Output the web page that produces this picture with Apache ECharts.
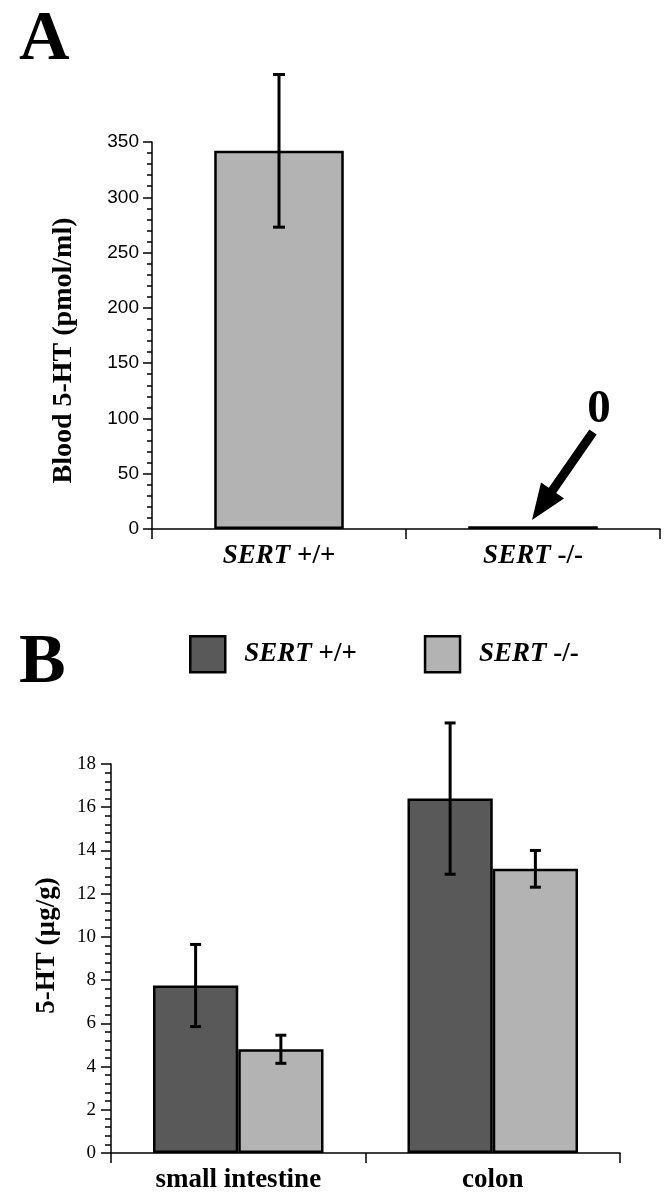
<!DOCTYPE html>
<html><head><meta charset="utf-8">
<script src="https://cdn.jsdelivr.net/npm/echarts@6/dist/echarts.min.js"></script>
<style>html,body{margin:0;padding:0;background:#fff}#c{width:664px;height:1200px}</style>
</head><body><div id="c"></div>
<script>
// ---- Panel A data ----
const catsA = ['SERT +/+', 'SERT -/-'];
const valuesA = [342, 2.5];
const errA = [69, 0];
const yTicksA = { min: 0, max: 350, interval: 50 };

// ---- Panel B data ----
const catsB = ['small intestine', 'colon'];
const seriesNamesB = ['SERT +/+', 'SERT -/-'];
const wildB = [7.75, 16.4];
const wildErrB = [1.9, 3.5];
const koB = [4.8, 13.15];
const koErrB = [0.65, 0.85];
const yTicksB = { min: 0, max: 18, interval: 2 };

const SERIF = 'Liberation Serif, Times New Roman, serif';
const SANS = 'Liberation Sans, Arial, sans-serif';
const BLACK = '#000';
const GRAY_L = '#b3b3b3';
const GRAY_D = '#595959';

const richSert = {
  i: { fontFamily: SERIF, fontWeight: 'bold', fontStyle: 'italic', fontSize: 27, color: BLACK },
  b: { fontFamily: SERIF, fontWeight: 'bold', fontSize: 27, color: BLACK }
};
function sertFmt(v) {
  const p = v.split(' ');
  return '{i|' + p[0] + '}{b| ' + p.slice(1).join(' ') + '}';
}

function errRender(offsetFrac, capW) {
  return function (params, api) {
    const x = api.value(0), v = api.value(1), e = api.value(2);
    if (!e) return null;
    const band = api.size([1, 0])[0];
    const hi = api.coord([x, v + e]);
    const lo = api.coord([x, v - e]);
    const cx = hi[0] + band * offsetFrac;
    const st = { stroke: BLACK, lineWidth: 3 };
    return { type: 'group', children: [
      { type: 'line', shape: { x1: cx, y1: hi[1], x2: cx, y2: lo[1] }, style: st },
      { type: 'line', shape: { x1: cx - capW / 2, y1: hi[1], x2: cx + capW / 2, y2: hi[1] }, style: st },
      { type: 'line', shape: { x1: cx - capW / 2, y1: lo[1], x2: cx + capW / 2, y2: lo[1] }, style: st }
    ]};
  };
}

const axisLineSt = { color: BLACK, width: 1.5 };
const B_GAP = 0.33;
const bOff = (1 - B_GAP) / 4;

// arrow annotation geometry
const arrowStart = [593, 432], arrowTip = [532, 520];
function arrowPoints() {
  const dx = arrowTip[0] - arrowStart[0], dy = arrowTip[1] - arrowStart[1];
  const L = Math.hypot(dx, dy), d = [dx / L, dy / L], n = [d[1], -d[0]];
  const headL = 36, headW = 14, shaftW = 4.5;
  const bc = [arrowTip[0] - d[0] * headL, arrowTip[1] - d[1] * headL];
  const p = (b, k) => [b[0] + n[0] * k, b[1] + n[1] * k];
  return [p(arrowStart, shaftW), p(bc, shaftW), p(bc, headW), arrowTip, p(bc, -headW), p(bc, -shaftW), p(arrowStart, -shaftW)];
}

const chart = echarts.init(document.getElementById('c'), null, { renderer: 'canvas' });
chart.setOption({
  animation: false,
  backgroundColor: '#fff',
  grid: [
    { left: 152, right: 4, top: 142, bottom: 671, containLabel: false, outerBoundsMode: 'none' },
    { left: 111, right: 44, top: 764, bottom: 47, containLabel: false, outerBoundsMode: 'none' }
  ],
  legend: {
    data: seriesNamesB, top: 630, left: 184, itemWidth: 35, itemHeight: 36, itemGap: 67,
    icon: 'rect', selectedMode: false,
    itemStyle: { borderColor: BLACK, borderWidth: 2.5 },
    formatter: sertFmt,
    textStyle: { fontFamily: SERIF, fontWeight: 'bold', fontSize: 27, color: BLACK, padding: [0, 0, 0, 14], rich: richSert }
  },
  xAxis: [
    { gridIndex: 0, type: 'category', data: catsA,
      axisLine: { lineStyle: axisLineSt }, axisTick: { show: true, length: 10, lineStyle: axisLineSt },
      axisLabel: { margin: 14, formatter: sertFmt, rich: richSert, fontFamily: SERIF, fontWeight: 'bold', fontSize: 27, color: BLACK } },
    { gridIndex: 1, type: 'category', data: catsB,
      axisLine: { lineStyle: axisLineSt }, axisTick: { show: true, length: 10, lineStyle: axisLineSt },
      axisLabel: { margin: 14, fontFamily: SERIF, fontWeight: 'bold', fontSize: 27, color: BLACK } }
  ],
  yAxis: [
    { gridIndex: 0, type: 'value', min: yTicksA.min, max: yTicksA.max, interval: yTicksA.interval,
      axisLine: { show: true, lineStyle: axisLineSt },
      axisTick: { show: true, length: 9, lineStyle: axisLineSt },
      minorTick: { show: true, splitNumber: 5, length: 5, lineStyle: { color: BLACK, width: 1.5 } },
      splitLine: { show: false }, minorSplitLine: { show: false },
      axisLabel: { fontFamily: SANS, fontSize: 19, color: BLACK, margin: 13 },
      name: 'Blood 5-HT (pmol/ml)', nameLocation: 'middle', nameGap: 74,
      nameTextStyle: { fontFamily: SERIF, fontWeight: 'bold', fontSize: 28, color: BLACK, padding: [0, 30, 0, 0] } },
    { gridIndex: 1, type: 'value', min: yTicksB.min, max: yTicksB.max, interval: yTicksB.interval,
      axisLine: { show: true, lineStyle: axisLineSt },
      axisTick: { show: true, length: 10, lineStyle: axisLineSt },
      minorTick: { show: true, splitNumber: 5, length: 6, lineStyle: { color: BLACK, width: 1.5 } },
      splitLine: { show: false }, minorSplitLine: { show: false },
      axisLabel: { fontFamily: SERIF, fontSize: 19, color: BLACK, margin: 15 },
      name: '5-HT (µg/g)', nameLocation: 'middle', nameGap: 50,
      nameTextStyle: { fontFamily: SERIF, fontWeight: 'bold', fontSize: 27, color: BLACK, padding: [0, 0, 0, 26] } }
  ],
  series: [
    { type: 'bar', xAxisIndex: 0, yAxisIndex: 0, data: valuesA, barWidth: '51%',
      itemStyle: { color: GRAY_L, borderColor: BLACK, borderWidth: 2.5 } },
    { type: 'custom', xAxisIndex: 0, yAxisIndex: 0, z: 5, clip: false,
      renderItem: errRender(0, 12), encode: { x: 0, y: 1 },
      data: valuesA.map((v, i) => [i, v, errA[i]]) },
    { name: seriesNamesB[0], type: 'bar', xAxisIndex: 1, yAxisIndex: 1, data: wildB,
      barGap: '0%', barCategoryGap: (B_GAP * 100) + '%',
      itemStyle: { color: GRAY_D, borderColor: BLACK, borderWidth: 2.5 } },
    { name: seriesNamesB[1], type: 'bar', xAxisIndex: 1, yAxisIndex: 1, data: koB,
      barGap: '0%', barCategoryGap: (B_GAP * 100) + '%',
      itemStyle: { color: GRAY_L, borderColor: BLACK, borderWidth: 2.5 } },
    { type: 'custom', xAxisIndex: 1, yAxisIndex: 1, z: 5, clip: false,
      renderItem: errRender(-bOff, 11), encode: { x: 0, y: 1 },
      data: wildB.map((v, i) => [i, v, wildErrB[i]]) },
    { type: 'custom', xAxisIndex: 1, yAxisIndex: 1, z: 5, clip: false,
      renderItem: errRender(bOff, 11), encode: { x: 0, y: 1 },
      data: koB.map((v, i) => [i, v, koErrB[i]]) }
  ],
  graphic: [
    { type: 'text', left: 19, top: 6, style: { text: 'A', font: 'bold 70px ' + SERIF, fill: BLACK } },
    { type: 'text', left: 19, top: 629, style: { text: 'B', font: 'bold 70px ' + SERIF, fill: BLACK } },
    { type: 'text', x: 599, y: 410, style: { text: '0', font: 'bold 47px ' + SERIF, fill: BLACK, textAlign: 'center', textVerticalAlign: 'middle' } },
    { type: 'polygon', shape: { points: arrowPoints() }, style: { fill: BLACK } }
  ]
});
</script>
</body></html>
